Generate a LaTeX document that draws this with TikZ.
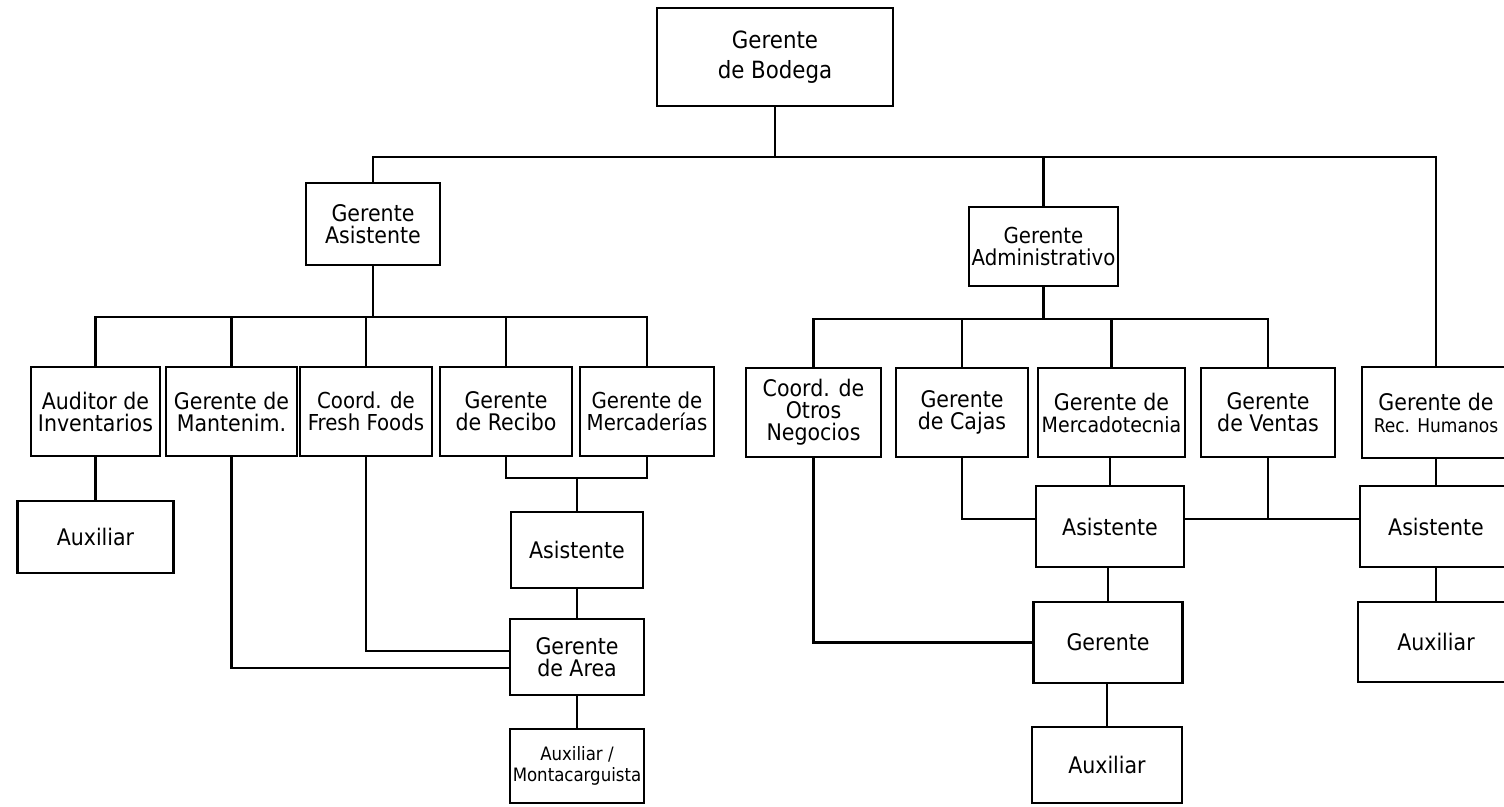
\documentclass[tikz,border=0pt]{standalone}
\usepackage{fontspec}
\setmainfont{DejaVu Sans Condensed}

\begin{document}
\begin{tikzpicture}[x=0.2mm, y=-0.2mm, line width=1.2pt,
	box/.style 2 args={draw, inner sep=0pt, outer sep=0pt, align=center,
		minimum width=#1*0.2mm, minimum height=#2*0.2mm,
		font=\fontsize{13}{12.5}\selectfont}]
	\useasboundingbox (0,0) rectangle (1504,806);
	% Bus levels
	\coordinate (busT) at (775,157);
	\coordinate (busL) at (370,317);
	\coordinate (busR) at (1045,319);
	\coordinate (joinL) at (577,478);
	\coordinate (lnkR) at (1270,519);
	% Top level
	\node[box={236}{98}, font=\fontsize{13.5}{17}\selectfont] (bodega) at (775,57) {Gerente\\de Bodega};
	\node[box={134}{82}] (gasist) at (373,224) {Gerente\\Asistente};
	\node[box={149}{79}, font=\fontsize{12.5}{12.5}\selectfont] (gadmin) at (1043.5,246.5) {Gerente\\Administrativo};
	% Left branch
	\node[box={129}{89}] (aud) at (95.5,411.5) {Auditor de\\Inventarios};
	\node[box={131}{89}] (mant) at (231.5,411.5) {Gerente de\\Mantenim.};
	\node[box={132}{89}, font=\fontsize{12.5}{12.5}\selectfont] (fresh) at (366,411.5) {Coord. de\\Fresh Foods};
	\node[box={132}{89}] (recibo) at (506,411.5) {Gerente\\de Recibo};
	\node[box={134}{89}, font=\fontsize{12.5}{12.5}\selectfont] (merc) at (647,411.5) {Gerente de\\Mercaderías};
	\node[box={156}{72}] (auxA) at (95.5,537) {Auxiliar};
	\node[box={132}{76}] (asisA) at (577,550) {Asistente};
	\node[box={134}{76}] (area) at (577,657) {Gerente\\de Area};
	\node[box={134}{74}, font=\fontsize{10.5}{12}\selectfont] (monta) at (577,766) {Auxiliar /\\Montacarguista};
	% Right branch
	\node[box={135}{89}] (otros) at (813.5,412.5) {Coord. de\\Otros\\Negocios};
	\node[box={132}{89}] (cajas) at (962,412.5) {Gerente\\de Cajas};
	\node[box={147}{89}] (mkt) at (1111.5,412.5) {Gerente de\\{\fontsize{12}{12.5}\selectfont Mercadotecnia}};
	\node[box={134}{89}] (ventas) at (1268,412.5) {Gerente\\de Ventas};
	\node[box={148}{91}] (rrhh) at (1436,412.5) {Gerente de\\{\fontsize{10.8}{12.5}\selectfont Rec. Humanos}};
	\node[box={148}{81}] (asisB) at (1110,526.5) {Asistente};
	\node[box={152}{81}] (asisC) at (1436,526.5) {Asistente};
	\node[box={149}{81}] (gerB) at (1108,642.5) {Gerente};
	\node[box={156}{80}] (auxC) at (1436,642) {Auxiliar};
	\node[box={150}{76}] (auxB) at (1107,765) {Auxiliar};
	% Top connectors
	\draw (bodega.south) -- (bodega.south |- busT);
	\draw (gasist.north) |- (rrhh.north |- busT) -- (rrhh.north);
	\draw (gadmin.north) -- (gadmin.north |- busT);
	% Left connectors
	\draw (gasist.south) -- (gasist.south |- busL);
	\draw (aud.north) |- (merc.north |- busL) -- (merc.north);
	\foreach \n in {mant,fresh,recibo}
		\draw (\n.north) -- (\n.north |- busL);
	\draw (aud.south) -- (auxA.north);
	\draw (recibo.south) |- (merc.south |- joinL) -- (merc.south);
	\draw (asisA.north) -- (asisA.north |- joinL);
	\draw (asisA.south) -- (area.north);
	\draw (area.south) -- (monta.north);
	\draw (mant.south) |- ([yshift=-2.2mm]area.west);
	\draw (fresh.south) |- ([yshift=1.2mm]area.west);
	% Right connectors
	\draw (gadmin.south) -- (gadmin.south |- busR);
	\draw (otros.north) |- (ventas.north |- busR) -- (ventas.north);
	\foreach \n in {cajas,mkt}
		\draw (\n.north) -- (\n.north |- busR);
	\draw (asisB.north) -- (asisB.north |- mkt.south);
	\draw (cajas.south) |- (asisB.west |- lnkR);
	\draw (asisB.east |- lnkR) -- (asisC.west |- lnkR);
	\draw (ventas.south) -- (ventas.south |- lnkR);
	\draw (gerB.north) -- (gerB.north |- asisB.south);
	\draw (auxB.north) -- (auxB.north |- gerB.south);
	\draw (otros.south) |- (gerB.west);
	\draw (rrhh.south) -- (asisC.north);
	\draw (asisC.south) -- (auxC.north);
\end{tikzpicture}
\end{document}
